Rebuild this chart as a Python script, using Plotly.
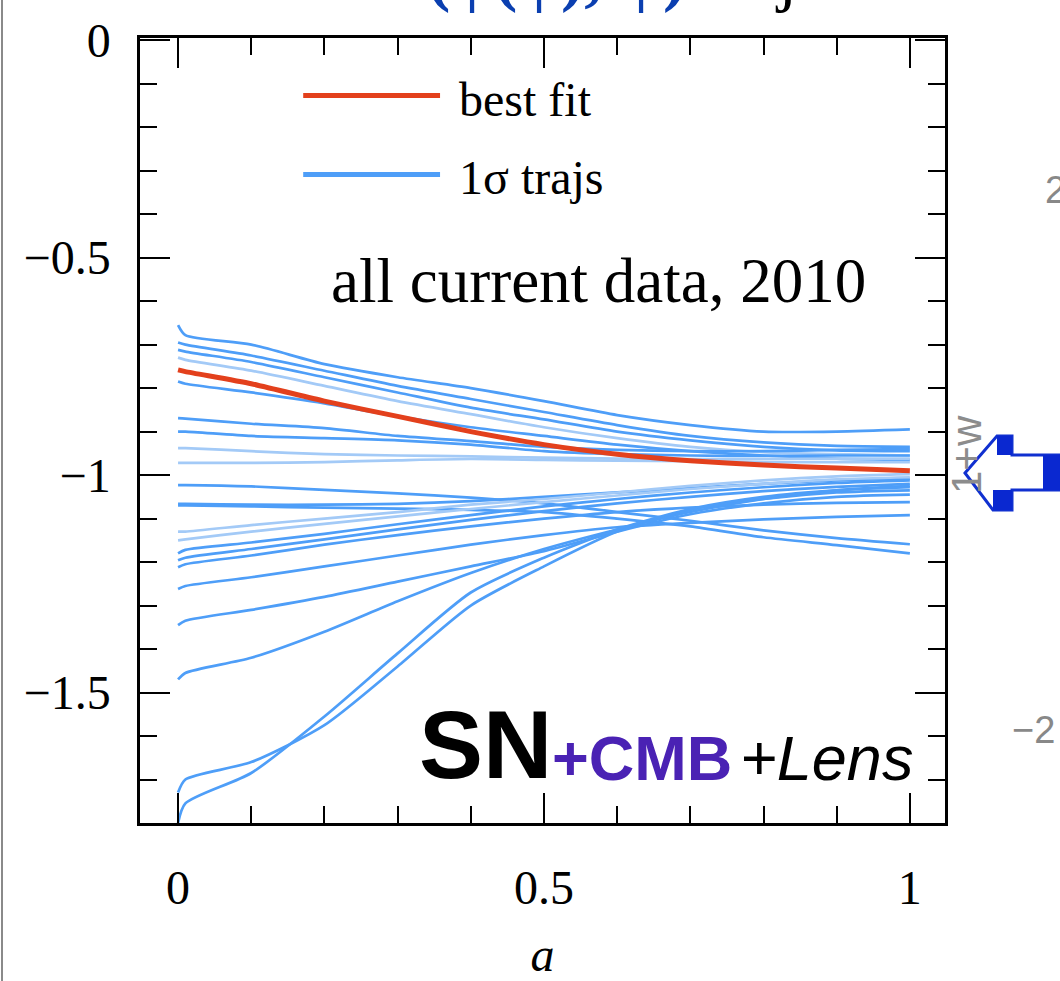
import plotly.graph_objects as go

# ---------------- data ----------------
a_grid = [0.0, 0.01, 0.1, 0.2, 0.3, 0.4, 0.5, 0.6, 0.7, 0.8, 0.9, 1.0]

best_fit = [-0.758, -0.762, -0.79, -0.83, -0.865, -0.90, -0.93, -0.952, -0.967, -0.977, -0.984, -0.99]

traj_u1 = [-0.655, -0.678, -0.70, -0.745, -0.775, -0.80, -0.83, -0.862, -0.885, -0.90, -0.90, -0.895]
traj_u2 = [-0.695, -0.70, -0.725, -0.76, -0.795, -0.825, -0.855, -0.885, -0.91, -0.925, -0.933, -0.935]
traj_u3 = [-0.712, -0.716, -0.74, -0.775, -0.81, -0.845, -0.872, -0.90, -0.92, -0.935, -0.943, -0.945]
traj_u4 = [-0.73, -0.735, -0.76, -0.795, -0.83, -0.86, -0.89, -0.915, -0.935, -0.947, -0.952, -0.955]
traj_u5 = [-0.785, -0.79, -0.81, -0.835, -0.865, -0.89, -0.91, -0.93, -0.945, -0.955, -0.962, -0.965]
traj_m1 = [-0.869, -0.87, -0.882, -0.892, -0.91, -0.922, -0.935, -0.942, -0.945, -0.945, -0.942, -0.94]
traj_m2 = [-0.90, -0.90, -0.91, -0.915, -0.92, -0.93, -0.945, -0.952, -0.955, -0.956, -0.955, -0.955]
traj_m3 = [-0.938, -0.938, -0.945, -0.952, -0.955, -0.957, -0.96, -0.962, -0.963, -0.963, -0.962, -0.962]
traj_m4 = [-0.972, -0.972, -0.972, -0.97, -0.966, -0.963, -0.965, -0.967, -0.968, -0.97, -0.97, -0.97]
traj_l1 = [-1.023, -1.023, -1.026, -1.034, -1.042, -1.052, -1.065, -1.085, -1.105, -1.127, -1.145, -1.159]
traj_l2 = [-1.07, -1.07, -1.072, -1.075, -1.077, -1.08, -1.085, -1.10, -1.118, -1.143, -1.161, -1.18]
traj_l3 = [-1.066, -1.066, -1.068, -1.068, -1.066, -1.06, -1.05, -1.04, -1.03, -1.02, -1.012, -1.008]
traj_r1 = [-1.13, -1.13, -1.115, -1.10, -1.085, -1.068, -1.055, -1.04, -1.025, -1.012, -1.003, -0.998]
traj_r2 = [-1.15, -1.148, -1.13, -1.112, -1.095, -1.078, -1.062, -1.047, -1.032, -1.02, -1.01, -1.005]
traj_r3 = [-1.18, -1.172, -1.155, -1.135, -1.113, -1.092, -1.072, -1.055, -1.04, -1.028, -1.018, -1.012]
traj_r4 = [-1.196, -1.19, -1.17, -1.148, -1.125, -1.103, -1.083, -1.065, -1.05, -1.037, -1.027, -1.02]
traj_r5 = [-1.212, -1.205, -1.185, -1.16, -1.138, -1.118, -1.10, -1.085, -1.075, -1.068, -1.064, -1.062]
traj_r6 = [-1.262, -1.255, -1.235, -1.21, -1.185, -1.16, -1.138, -1.12, -1.11, -1.102, -1.096, -1.092]
traj_r7 = [-1.345, -1.335, -1.31, -1.28, -1.245, -1.21, -1.175, -1.13, -1.09, -1.065, -1.05, -1.045]
traj_r8 = [-1.47, -1.455, -1.42, -1.36, -1.29, -1.225, -1.17, -1.125, -1.085, -1.055, -1.035, -1.025]
traj_p = [-1.73, -1.70, -1.66, -1.575, -1.44, -1.30, -1.21, -1.13, -1.08, -1.055, -1.04, -1.035]
traj_q = [-1.80, -1.755, -1.685, -1.555, -1.41, -1.27, -1.19, -1.125, -1.078, -1.05, -1.035, -1.028]

sigma_trajs = [traj_u1, traj_u2, traj_u3, traj_u4, traj_u5, traj_m1, traj_m2, traj_m3, traj_m4,
               traj_l1, traj_l2, traj_l3, traj_r1, traj_r2, traj_r3, traj_r4, traj_r5, traj_r6,
               traj_r7, traj_r8, traj_p, traj_q]
light_trajs = {3, 7, 8, 12, 13}

legend_labels = ["best fit", "1σ trajs"]

BLUE = "#4e9ef8"
LIGHT = "#a3caf7"
RED = "#e3401c"
SERIF = "Liberation Serif"
SANS = "Liberation Sans"

fig = go.Figure()
for i, tr in enumerate(sigma_trajs):
    fig.add_trace(go.Scatter(
        x=a_grid, y=tr, mode="lines",
        line=dict(color=LIGHT if i in light_trajs else BLUE, width=2.7, shape="spline", smoothing=0.7),
        showlegend=False, hoverinfo="skip"))
fig.add_trace(go.Scatter(
    x=a_grid, y=best_fit, mode="lines",
    line=dict(color=RED, width=5, shape="spline", smoothing=0.6),
    showlegend=False, hoverinfo="skip"))

axis_common = dict(
    showline=True, linecolor="black", linewidth=2.5, mirror="allticks",
    ticks="inside", ticklen=30, tickwidth=2.2, tickcolor="black",
    showgrid=False, zeroline=False, automargin=False,
    tickfont=dict(family=SERIF, size=48, color="black"),
)

fig.update_xaxes(range=[-0.052, 1.048], tickmode="linear", tick0=0, dtick=0.5,
                 minor=dict(ticks="inside", ticklen=17, tickwidth=2, tickcolor="black", dtick=0.1, tick0=0),
                 ticklabelstandoff=21,
                 title=dict(text="<i>a</i>", font=dict(family=SERIF, size=48, color="black"), standoff=34),
                 **axis_common)
fig.update_yaxes(range=[-1.80, 0.005], tickmode="linear", tick0=0, dtick=0.5,
                 minor=dict(ticks="inside", ticklen=17, tickwidth=2, tickcolor="black", dtick=0.1, tick0=0),
                 ticklabelstandoff=17,
                 **axis_common)

# manual legend (long sample lines as in the reference)
shapes = [
    dict(type="line", xref="x", yref="y", x0=0.171, x1=0.358, y0=-0.127, y1=-0.127,
         line=dict(color=RED, width=5)),
    dict(type="line", xref="x", yref="y", x0=0.171, x1=0.358, y0=-0.309, y1=-0.309,
         line=dict(color=BLUE, width=5)),
]

annotations = [
    dict(x=0.381, y=-0.136, xref="x", yref="y", text=legend_labels[0], showarrow=False,
         xanchor="left", yanchor="middle", font=dict(family=SERIF, size=48, color="black")),
    dict(x=0.381, y=-0.316, xref="x", yref="y", text=legend_labels[1], showarrow=False,
         xanchor="left", yanchor="middle", font=dict(family=SERIF, size=48, color="black")),
    dict(x=0.574, y=-0.553, xref="x", yref="y", text="all current data, 2010", showarrow=False,
         xanchor="center", yanchor="middle", font=dict(family=SERIF, size=63, color="black")),
    dict(x=0.326, y=-1.62, xref="x", yref="y", text="<b>SN</b>", showarrow=False,
         xanchor="left", yanchor="middle", font=dict(family=SANS, size=96, color="black")),
    dict(x=0.508, y=-1.65, xref="x", yref="y", text="<b>+CMB</b>", showarrow=False,
         xanchor="left", yanchor="middle", font=dict(family=SANS, size=63, color="#4a22b4")),
    dict(x=0.765, y=-1.65, xref="x", yref="y", text="<i>+Lens</i>", showarrow=False,
         xanchor="left", yanchor="middle", font=dict(family=SANS, size=63, color="black")),
]

# fragments of the neighbouring slide content
def px(xp):
    return (xp - 140) / 805.0

def py(yp):
    return (823 - yp) / 785.0

annotations += [
    dict(x=px(425), y=py(15), xref="paper", yref="paper", showarrow=False, xanchor="left", yanchor="bottom",
         text="<span style='color:#0b3fb0'><b>(φ(φ), φ)</b></span> trajectories",
         font=dict(family=SERIF, size=70, color="black")),
    dict(x=px(966), y=py(455), xref="paper", yref="paper", showarrow=False, textangle=-90,
         xanchor="center", yanchor="middle",
         text="1+w", font=dict(family=SANS, size=42, color="#8c8c8c")),
    dict(x=px(1043), y=py(190), xref="paper", yref="paper", showarrow=False, xanchor="left", yanchor="middle",
         text="2", font=dict(family=SANS, size=38, color="#888888")),
    dict(x=px(1010), y=py(730), xref="paper", yref="paper", showarrow=False, xanchor="left", yanchor="middle",
         text="−2", font=dict(family=SANS, size=38, color="#888888")),
]

# left border line of the screenshot
shapes.append(dict(type="line", xref="paper", yref="paper", x0=px(2), x1=px(2), y0=py(-5), y1=py(990),
                   line=dict(color="#8a8a8a", width=2), layer="above"))

# blue outlined arrow pointing left
arrow_path = "M {} {} L {} {} L {} {} L {} {} L {} {} L {} {} L {} {} L {} {} L {} {} Z".format(
    px(965), py(473), px(997), py(436), px(1012), py(436), px(1012), py(455), px(1062), py(455),
    px(1062), py(490), px(1012), py(490), px(1012), py(510), px(993), py(510))
shapes.append(dict(type="path", xref="paper", yref="paper", path=arrow_path,
                   line=dict(color="#1030d0", width=3), fillcolor="white", layer="above"))
for (x0, y0, x1, y1) in [(997, 436, 1012, 455), (993, 490, 1012, 510), (1043, 455, 1062, 490)]:
    shapes.append(dict(type="rect", xref="paper", yref="paper", x0=px(x0), x1=px(x1), y0=py(y1), y1=py(y0),
                       line=dict(width=0), fillcolor="#0a28d0", layer="above"))

fig.update_layout(
    width=1060, height=981, autosize=False,
    margin=dict(l=140, r=115, t=38, b=158),
    paper_bgcolor="white", plot_bgcolor="white",
    showlegend=False,
    shapes=shapes, annotations=annotations,
)

fig.write_html("out.html", config={"displayModeBar": False},
               post_script="document.body.style.margin='0';document.body.style.overflow='hidden';")
